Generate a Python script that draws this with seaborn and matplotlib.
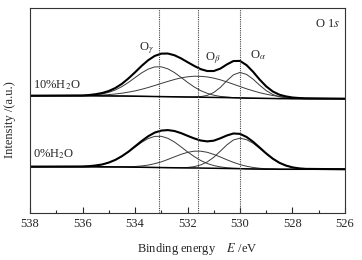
import numpy as np
import seaborn as sns
import matplotlib
matplotlib.use("Agg")
import matplotlib.pyplot as plt

# binding energy grid (eV)
be = [538, 536.0, 535.75, 535.5, 535.25, 535.0, 534.75, 534.5, 534.25, 534.0,
      533.75, 533.5, 533.25, 533.0, 532.75, 532.5, 532.25, 532.0, 531.75, 531.5,
      531.25, 531.0, 530.75, 530.5, 530.25, 530.0, 529.75, 529.5, 529.25, 529.0,
      528.75, 528.5, 528.25, 528.0, 527.75, 527.5, 526]

# 10% H2O: background and fitted components (above background)
bg_10 = [117.3, 117.2, 117.2, 117.2, 117.1, 117.1, 117.0, 117.0, 116.9, 116.8,
         116.7, 116.6, 116.5, 116.4, 116.3, 116.2, 116.1, 116.0, 115.9, 115.8,
         115.7, 115.6, 115.5, 115.4, 115.2, 115.1, 114.9, 114.8, 114.7, 114.6,
         114.5, 114.4, 114.4, 114.3, 114.3, 114.3, 114.3]
og_10 = [0, 0.2, 0.5, 1.0, 2.0, 3.6, 6.0, 9.4, 13.7, 18.6,
         23.4, 27.3, 29.6, 29.8, 27.9, 24.3, 19.6, 14.7, 10.2, 6.6,
         4.0, 2.2, 1.1, 0.6, 0.2, 0.1, 0, 0, 0, 0,
         0, 0, 0, 0, 0, 0, 0]
ob_10 = [0, 0.2, 0.3, 0.6, 0.9, 1.3, 2.0, 2.8, 4.0, 5.3,
         7.0, 8.9, 11.0, 13.2, 15.3, 17.3, 19.0, 20.2, 20.9, 20.9,
         20.4, 19.3, 17.7, 15.7, 13.6, 11.4, 9.3, 7.4, 5.6, 4.2,
         3.0, 2.1, 1.5, 1.0, 0.6, 0.4, 0]
oa_10 = [0, 0, 0, 0, 0, 0, 0, 0, 0, 0,
         0, 0, 0, 0, 0, 0, 0, 0, 0.2, 0.6,
         1.9, 4.9, 10.1, 16.9, 23.0, 25.5, 23.7, 19.0, 13.1, 7.8,
         4.0, 1.8, 0.7, 0.2, 0.1, 0, 0]

# 0% H2O
bg_0 = [46.3, 46.2, 46.2, 46.2, 46.1, 46.1, 46.0, 46.0, 45.9, 45.8,
        45.7, 45.6, 45.5, 45.4, 45.3, 45.2, 45.1, 45.0, 45.0, 44.9,
        44.8, 44.7, 44.6, 44.5, 44.4, 44.3, 44.1, 44.0, 43.9, 43.8,
        43.8, 43.7, 43.7, 43.7, 43.7, 43.7, 43.7]
og_0 = [0, 0.3, 0.6, 1.3, 2.4, 4.3, 7.0, 10.6, 15.1, 20.1,
        24.9, 28.8, 31.1, 31.3, 29.4, 25.8, 21.1, 16.1, 11.5, 7.6,
        4.7, 2.7, 1.5, 0.7, 0.3, 0.2, 0.1, 0, 0, 0,
        0, 0, 0, 0, 0, 0, 0]
ob_0 = [0, 0, 0, 0, 0, 0, 0.1, 0.2, 0.3, 0.7,
        1.3, 2.3, 3.8, 5.7, 8.2, 10.9, 13.5, 15.6, 16.8, 16.9,
        15.9, 13.9, 11.4, 8.7, 6.2, 4.1, 2.6, 1.5, 0.8, 0.4,
        0.2, 0.1, 0, 0, 0, 0, 0]
oa_0 = [0, 0, 0, 0, 0, 0, 0, 0, 0, 0,
        0, 0, 0, 0, 0, 0.1, 0.2, 0.5, 1.3, 3.1,
        6.2, 11.0, 17.2, 23.6, 28.6, 30.5, 29.2, 25.7, 20.7, 15.3,
        10.3, 6.4, 3.7, 1.9, 0.9, 0.4, 0]

peak_pos = [533.1, 531.6, 530.0]
peak_labels = [r"O$_{\gamma}$", r"O$_{\beta}$", r"O$_{\alpha}$"]
label_x = [533.55, 531.05, 529.3]
label_y = [165, 155, 158]

sns.set_style("ticks")
plt.rcParams["font.family"] = ["Liberation Serif", "DejaVu Serif"]
plt.rcParams["mathtext.fontset"] = "stix"

fig = plt.figure(figsize=(3.62, 2.60), dpi=100)
ax = fig.add_axes([0.083, 0.181, 0.870, 0.788])

be_arr = np.array(be)
for bg, comps in [(bg_10, [og_10, ob_10, oa_10]), (bg_0, [og_0, ob_0, oa_0])]:
    bg = np.array(bg)
    for comp in comps:
        sns.lineplot(x=be_arr, y=bg + np.array(comp), ax=ax, color="#3a3a3a", lw=0.7)
    env = bg + np.sum([np.array(c) for c in comps], axis=0)
    sns.lineplot(x=be_arr, y=bg, ax=ax, color="black", lw=1.1)
    sns.lineplot(x=be_arr, y=env, ax=ax, color="black", lw=1.5)

for p in peak_pos:
    ax.axvline(p, color="#444444", lw=0.8, ls=(0, (1, 1)))

for lx, ly, lab in zip(label_x, label_y, peak_labels):
    ax.text(lx, ly, lab, fontsize=9, ha="center", va="center")

ax.text(537.9, 128, r"10%H$_{2}$O", fontsize=9, ha="left", va="center")
ax.text(537.9, 58.5, r"0%H$_{2}$O", fontsize=9, ha="left", va="center")
ax.text(0.985, 0.92, r"O 1$\it{s}$", transform=ax.transAxes, fontsize=9,
        ha="right", va="center")

ax.set_xlim(538, 526)
ax.set_ylim(0, 205)
ax.set_xticks([538, 536, 534, 532, 530, 528, 526])
ax.set_xticks([537, 535, 533, 531, 529, 527], minor=True)
ax.set_yticks([])
ax.tick_params(axis="x", which="major", direction="in", length=4, width=0.8,
               labelsize=9, pad=4)
ax.tick_params(axis="x", which="minor", direction="in", length=2, width=0.8)
for s in ax.spines.values():
    s.set_linewidth(0.8)
    s.set_color("#333333")

ax.set_xlabel(r"Binding energy    $\it{E}$ /eV", fontsize=9)
ax.xaxis.set_label_coords(0.53, -0.135)
ax.set_ylabel("Intensity /(a.u.)", fontsize=9)
ax.yaxis.set_label_coords(-0.045, 0.455)

fig.savefig("out.png", dpi=100)
